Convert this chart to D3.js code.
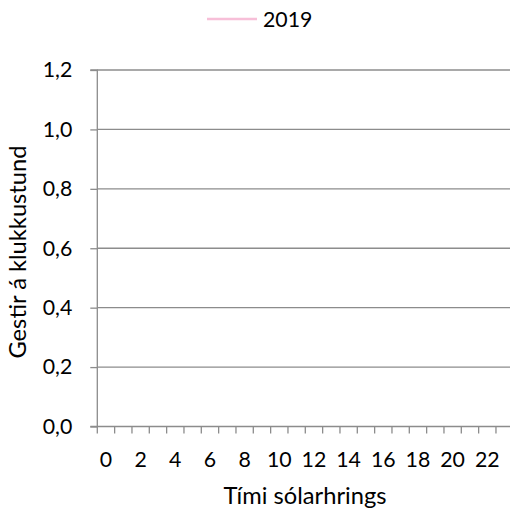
<!DOCTYPE html>
<html><head><meta charset="utf-8">
<script src="https://cdn.jsdelivr.net/npm/d3@7"></script>
<style>html,body{margin:0;padding:0;background:#fff;overflow:hidden}</style>
</head><body><div id="chart"></div>
<script>
const hours = d3.range(0,24).map(String);
const seriesName = "2019";
const values2019 = [null,null,null,null,null,null,null,null,null,null,null,null,null,null,null,null,null,null,null,null,null,null,null,null];
const yTicks = [0,0.2,0.4,0.6,0.8,1.0,1.2];
const xTitle = "Tími sólarhrings";
const yTitle = "Gestir á klukkustund";

const W=510,H=513;
const FONT = "Lato, sans-serif";
const FS = 21.3;
const FT = 23.7;
const svg = d3.select("#chart").append("svg").attr("width",W).attr("height",H)
  .style("font-family",FONT);

const x = d3.scaleBand().domain(hours).range([97.3,513.3]).paddingInner(0).paddingOuter(0);
const y = d3.scaleLinear().domain([0,1.2]).range([426.5,70]);

const grid = "#8c8c8c";
svg.append("g").selectAll("line").data(yTicks.filter(d=>d>0)).join("line")
  .attr("x1",x.range()[0]).attr("x2",x.range()[1])
  .attr("y1",d=>y(d)).attr("y2",d=>y(d))
  .attr("stroke",grid).attr("stroke-width",1.3);

const yAxis = d3.axisLeft(y).tickValues(yTicks).tickSize(7).tickPadding(18)
  .tickFormat(d=>d3.format(".1f")(d).replace(".",","));
const gy = svg.append("g").attr("transform",`translate(${x.range()[0]},0)`).call(yAxis);
gy.select(".domain").attr("stroke",grid).attr("stroke-width",1.3).attr("d",`M-7,${y(1.2)}H0V${y(0)}`);
gy.selectAll(".tick line").attr("stroke",grid).attr("stroke-width",1.3);
gy.selectAll("text").attr("font-size",FS).attr("fill","#000").attr("font-family",FONT);

const gx = svg.append("g").attr("transform",`translate(0,${y(0)})`);
gx.append("line").attr("x1",x.range()[0]-7).attr("x2",x.range()[1]).attr("stroke",grid).attr("stroke-width",1.3);
const bounds = hours.map(h=>x(h)).concat([x.range()[1]]);
gx.selectAll("line.t").data(bounds).join("line").attr("class","t")
  .attr("x1",d=>d).attr("x2",d=>d).attr("y1",0).attr("y2",7)
  .attr("stroke",grid).attr("stroke-width",1.3);
gx.selectAll("text").data(hours.filter((h,i)=>i%2===0)).join("text")
  .attr("x",d=>x(d)+x.bandwidth()/2).attr("y",40)
  .attr("text-anchor","middle").attr("font-size",FS).attr("fill","#000")
  .text(d=>d);

const line = d3.line().defined(d=>d.v!=null)
  .x(d=>x(d.h)+x.bandwidth()/2).y(d=>y(d.v));
svg.append("path").datum(hours.map((h,i)=>({h,v:values2019[i]})))
  .attr("d",line).attr("fill","none").attr("stroke","#f7bfd8").attr("stroke-width",2.5);

svg.append("line").attr("x1",207).attr("x2",257).attr("y1",19).attr("y2",19)
  .attr("stroke","#f7bfd8").attr("stroke-width",2.5);
svg.append("text").attr("x",263).attr("y",27).attr("font-size",FS).attr("fill","#000").text(seriesName);

svg.append("text").attr("x",305).attr("y",504).attr("text-anchor","middle")
  .attr("font-size",FT).attr("fill","#000").text(xTitle);
svg.append("text").attr("transform","translate(26,252) rotate(-90)").attr("text-anchor","middle")
  .attr("font-size",FT).attr("fill","#000").text(yTitle);
</script></body></html>
